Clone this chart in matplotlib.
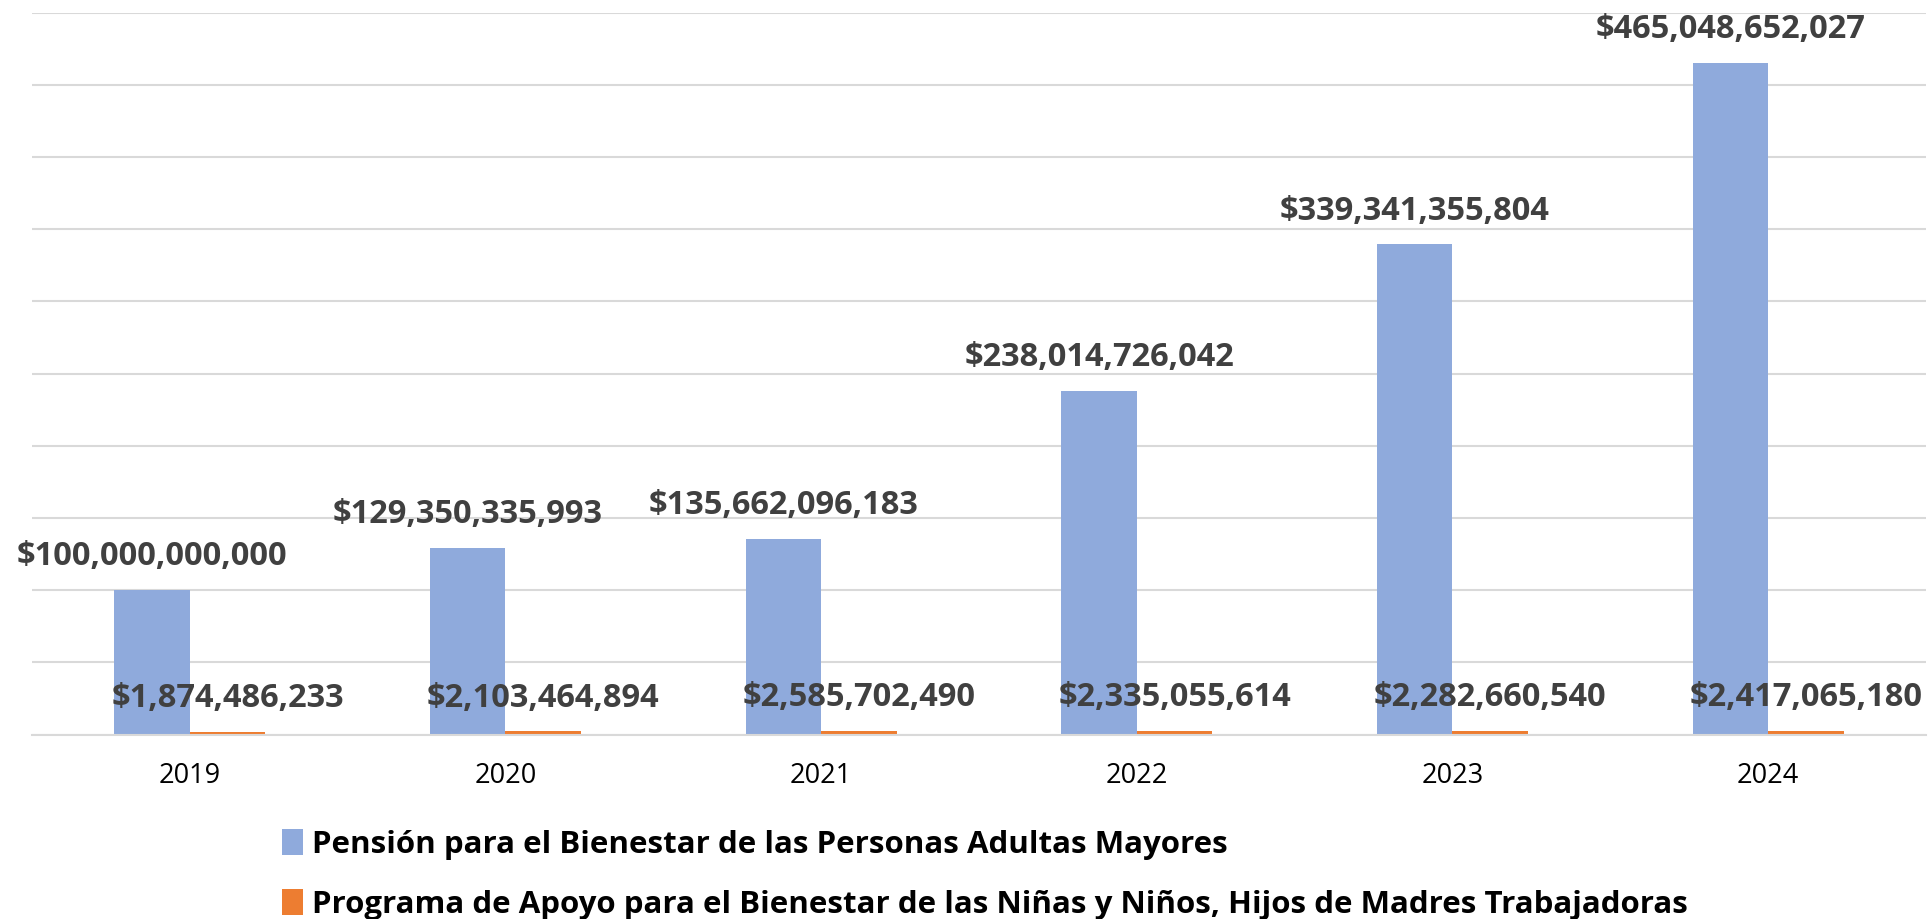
import numpy as np
import matplotlib.pyplot as plt

years = ['2019', '2020', '2021', '2022', '2023', '2024']
pension = [100000000000, 129350335993, 135662096183, 238014726042, 339341355804, 465048652027]
apoyo = [1874486233, 2103464894, 2585702490, 2335055614, 2282660540, 2417065180]
series_names = ['Pensión para el Bienestar de las Personas Adultas Mayores',
                'Programa de Apoyo para el Bienestar de las Niñas y Niños, Hijos de Madres Trabajadoras']

plt.rcParams['font.family'] = ['Open Sans', 'DejaVu Sans']

fig = plt.figure(figsize=(19.29, 9.19), dpi=100)
ax = fig.add_axes([32 / 1929, 1 - 734.5 / 919, 1894 / 1929, 722 / 919])

x = np.arange(len(years))
w = 0.239
b1 = ax.bar(x - w / 2, pension, w, color='#8FAADC', label=series_names[0], zorder=2)
b2 = ax.bar(x + w / 2, apoyo, w, color='#ED7D31', label=series_names[1], zorder=2)

for bars, vals in ((b1, pension), (b2, apoyo)):
    for r, v in zip(bars, vals):
        ax.annotate('${:,}'.format(v), (r.get_x() + r.get_width() / 2, r.get_height()),
                    xytext=(0, 24), textcoords='offset points', ha='center', va='center',
                    fontsize=23.5, fontweight='bold', color='#404040', zorder=3)

ax.set_xlim(-0.5, 5.5)
ax.set_ylim(0, 500e9)
ax.set_yticks(np.arange(0, 550e9, 50e9))
ax.set_yticklabels([])
ax.tick_params(axis='y', length=0)
ax.set_xticks(x)
ax.set_xticklabels(years, fontsize=19.5, color='black')
ax.tick_params(axis='x', length=0, pad=20)
ax.grid(axis='y', color='#d9d9d9', linewidth=1.5, zorder=0)
for s in ['top', 'left', 'right']:
    ax.spines[s].set_visible(False)
ax.spines['bottom'].set_color('#d9d9d9')
ax.spines['bottom'].set_linewidth(1.5)

fig.legend(loc='upper left', bbox_to_anchor=(282 / 1929, 1 - 829 / 919), frameon=False,
           prop={'size': 22.5, 'weight': 'bold'}, handlelength=0.67, handleheight=0.9,
           handletextpad=0.3, labelspacing=0.94, borderpad=0, borderaxespad=0)

fig.savefig('out.png', dpi=100)
